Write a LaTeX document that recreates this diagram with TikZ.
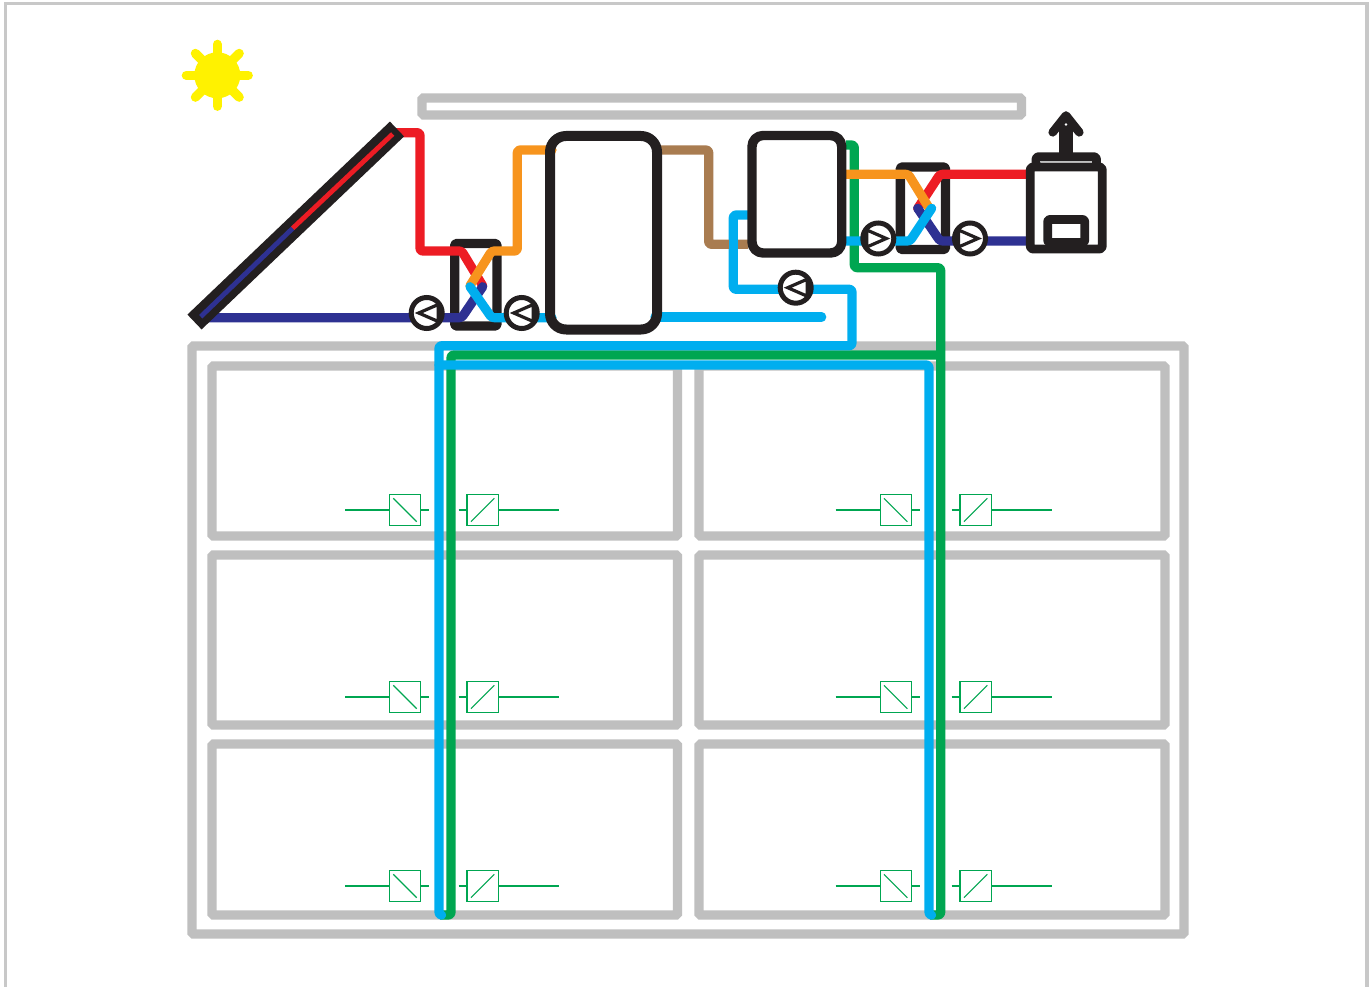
\documentclass[tikz,border=0pt]{standalone}
\definecolor{wallgray}{RGB}{191,191,191}
\definecolor{frameg}{RGB}{200,200,200}
\definecolor{pcyan}{RGB}{0,174,239}
\definecolor{pgreen}{RGB}{0,166,81}
\definecolor{pred}{RGB}{237,28,36}
\definecolor{pblue}{RGB}{46,49,146}
\definecolor{porange}{RGB}{247,148,29}
\definecolor{pbrown}{RGB}{169,124,80}
\definecolor{syellow}{RGB}{255,242,0}
\definecolor{kblack}{RGB}{35,31,32}
\tikzset{
  wall/.style={draw=wallgray,line width=9.2pt,rounded corners=1.5pt},
  pipe/.style={line width=9.2pt,rounded corners=2.5pt,line join=round},
  kit/.style={draw=kblack,line width=9.4pt,line join=round},
  pumpbody/.style={circle,draw=kblack,fill=white,line width=5pt,minimum size=31pt,inner sep=0pt,outer sep=0pt},
  pumptri/.style={draw=kblack,line width=3.2pt,line join=miter},
  inv/.style={draw=pgreen,line width=1.1pt}
}
\newcommand{\pumpleft}[2]{%
  \node[pumpbody] (#1) at (#2) {};
  \draw[pumptri] ([xshift=-8pt]#1.center) -- ([xshift=11.5pt,yshift=-8.5pt]#1.center) -- ([xshift=11.5pt,yshift=8.5pt]#1.center) -- cycle;}
\newcommand{\pumpright}[2]{%
  \node[pumpbody] (#1) at (#2) {};
  \draw[pumptri] ([xshift=8pt]#1.center) -- ([xshift=-11.5pt,yshift=-8.5pt]#1.center) -- ([xshift=-11.5pt,yshift=8.5pt]#1.center) -- cycle;}
\begin{document}
\begin{tikzpicture}[x=1pt,y=-1pt]
\useasboundingbox (0,0) rectangle (1369,987);
\fill[white] (0,0) rectangle (1369,987);
% page frame
\draw[frameg,line width=3.2pt] (5.7,987) -- (5.7,3.5) -- (1367,3.5) -- (1367,987);
% sun
\fill[syellow] (217.3,75.3) circle (23);
\foreach \a in {0,45,...,315}
  \draw[syellow,line width=9.2pt,line cap=round] (217.3,75.3) -- ++(\a:31);
% building
\draw[wall] (422,98) rectangle (1021.5,115);
\draw[wall] (192,346) rectangle (1184,934);
\foreach \xa/\xb in {212/677.5,699/1165}
  \foreach \ya/\yb in {366/536,555/725,744/915}
    \draw[wall] (\xa,\ya) rectangle (\xb,\yb);
% inverters
\foreach \y in {510,697,886}{
  \foreach \dx/\dy in {0/0,490.7/493}{
    \draw[inv] (345+\dx,\y) -- (389.5+\dx,\y) (420.5+\dx,\y) -- (429+\dx,\y);
    \draw[inv] (389.5+\dx,\y-15.5) rectangle (420.5+\dx,\y+15.5);
    \draw[inv] (393.3+\dx,\y-11.7) -- (416.7+\dx,\y+11.7);
    \draw[inv] (459+\dy-.3,\y) -- (467+\dy,\y) (498.3+\dy,\y) -- (559.3+\dy,\y);
    \draw[inv] (467+\dy,\y-15.5) rectangle (498.3+\dy,\y+15.5);
    \draw[inv] (471+\dy,\y+11.7) -- (494.3+\dy,\y-11.7);
  }
}
% heat exchanger frames
\draw[kit,rounded corners=1.5pt] (454.7,243.5) rectangle (497,326);
\draw[kit,rounded corners=1.5pt] (900.3,167) rectangle (945.5,249.5);
% green distribution
\draw[pgreen,pipe] (846,145) -- (854.3,145) -- (854.3,267.7) -- (940.7,267.7) -- (940.7,915) -- (930,915);
\draw[pgreen,pipe] (940.7,355) -- (451,355) -- (451,915) -- (440,915);
% cyan distribution
\draw[pcyan,pipe,line cap=round] (748,215) -- (733.3,215) -- (733.3,289.3) -- (852,289.3) -- (852,345.7) -- (439,345.7) -- (439,915) -- (441,915);
\draw[pcyan,pipe,line cap=round] (439,365) -- (929,365) -- (929,915) -- (931,915);
\draw[pcyan,pipe,line cap=round] (655,317) -- (821.7,317);
% brown
\draw[pbrown,pipe] (655,150) -- (708.7,150) -- (708.7,244.3) -- (748,244.3);
\draw[pcyan,line width=9.2pt] (733.3,236) -- (733.3,252);
% collector loop
\draw[pred,pipe,line cap=round] (392,132.7) -- (420,132.7) -- (420,251) -- (461.7,251) -- (482.7,285.7);
\draw[pblue,pipe,line cap=round] (205,317.7) -- (461.7,317.7) -- (482.7,286.7);
\draw[porange,pipe,line cap=round] (552,150) -- (517.3,150) -- (517.3,251) -- (491.7,251) -- (470,285.7);
\draw[pcyan,pipe,line cap=round] (470,286.7) -- (491.7,317.7) -- (552,317.7);
% boiler loop
\draw[pred,pipe,line cap=round] (1030,174.3) -- (940,174.3) -- (917.7,208.3);
\draw[pblue,pipe,line cap=round] (1030,241) -- (940,241) -- (917.7,208.3);
\draw[porange,pipe,line cap=round] (846,174.3) -- (908.3,174.3) -- (929.3,208.3);
\draw[pcyan,pipe,line cap=round] (846,241) -- (910,241) -- (931.7,208.3);
% collector
\draw[kblack,line width=20.5pt,line join=round] (194.5,322) -- (397,129);
\draw[pblue,line width=4.8pt] (200.7,316.7) -- (292.7,228.3);
\draw[pred,line width=4.8pt] (292.7,228.3) -- (392.7,134);
% tanks
\draw[kit,line width=10pt,rounded corners=16pt] (550,136) rectangle (657,329.5);
\draw[kit,rounded corners=11pt] (752,135.5) rectangle (841.7,253);
% boiler
\draw[kit,line width=8.8pt,rounded corners=2.5pt] (1036,156.7) rectangle (1096.5,172);
\draw[kit,line width=8.8pt,fill=white,rounded corners=2.5pt] (1030.3,167) rectangle (1102.2,249);
\draw[wallgray,line width=1.3pt] (1040,161.8) -- (1091.7,161.8);
\draw[kit,line width=8.8pt,rounded corners=2pt] (1047.7,219.5) rectangle (1084.7,242.5);
\fill[kblack] (1058.7,126) rectangle (1073.3,155);
\draw[kblack,line width=8.6pt,line cap=round,line join=round] (1052.7,132.3) -- (1066,115.5) -- (1079.3,132.3);
\fill[kblack] (1060,126) -- (1066,118) -- (1072,126) -- cycle;
\fill[white] (1066,124.5) circle (1.3);
% pumps
\pumpleft{pa}{426.7,313}
\pumpleft{pb}{521.7,313}
\pumpleft{pc}{795.7,287.7}
\pumpright{pd}{878.3,238.5}
\pumpright{pe}{970,238.5}
\end{tikzpicture}
\end{document}
